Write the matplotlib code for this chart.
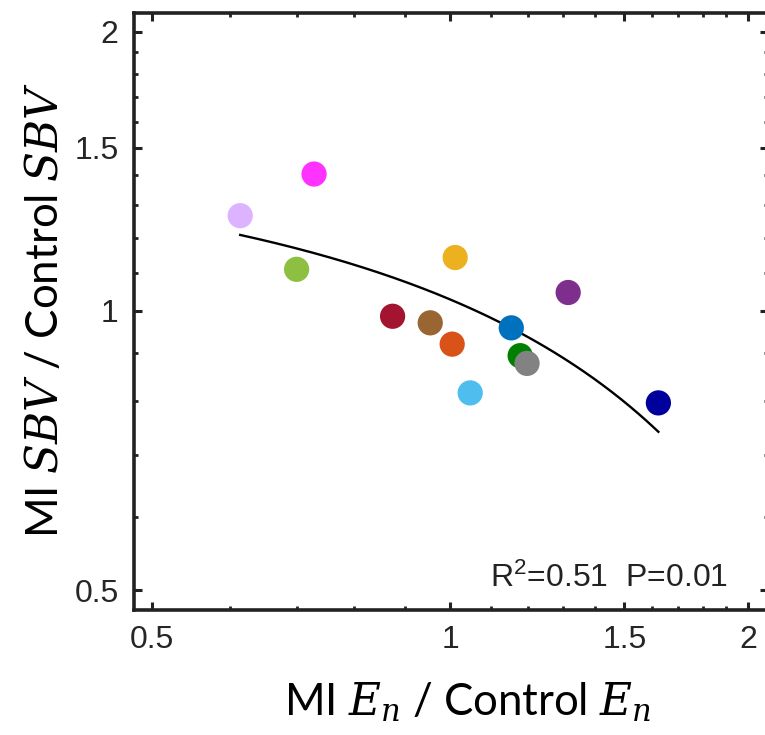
import matplotlib
matplotlib.use('Agg')
import matplotlib.pyplot as plt
import matplotlib.ticker as mticker
import numpy as np

# MI / control ratios, one point per subject
en_ratio = [0.614, 0.729, 0.700, 1.012, 1.316, 0.875, 0.955, 1.005, 1.153, 1.177, 1.196, 1.048, 1.623]
sbv_ratio = [1.267, 1.405, 1.109, 1.142, 1.047, 0.987, 0.971, 0.921, 0.959, 0.895, 0.878, 0.816, 0.796]
point_colors = ['#DDB3FF', '#FF33FF', '#8DC040', '#EDB120', '#7E2F8E', '#A2142F', '#996633',
                '#D95319', '#0072BD', '#008000', '#828282', '#4DBEEE', '#00009C']

major_ticks = [0.5, 1, 1.5, 2]
major_labels = ['0.5', '1', '1.5', '2']
minor_ticks = [0.6, 0.7, 0.8, 0.9, 1.1, 1.2, 1.3, 1.4, 1.6, 1.7, 1.8, 1.9]
stats_text = r'R$^2$=0.51  P=0.01'

# upright math in Arial-like sans, italic symbols in a serif italic
plt.rcParams['mathtext.fontset'] = 'custom'
plt.rcParams['mathtext.rm'] = 'Liberation Sans'
plt.rcParams['mathtext.it'] = 'DejaVu Serif:italic'

W, H = 765, 735
fig = plt.figure(figsize=(W / 100, H / 100), dpi=100)
ax = fig.add_axes([134 / W, (H - 610) / H, (768 - 134) / W, (610 - 13.3) / H])

ax.set_xscale('log')
ax.set_yscale('log')
ax.set_xlim(0.4797, 2.094)
ax.set_ylim(0.476, 2.094)

# linear least-squares fit, drawn over the range of the data
slope, intercept = np.polyfit(en_ratio, sbv_ratio, 1)
fit_x = np.linspace(min(en_ratio), max(en_ratio), 200)
ax.plot(fit_x, intercept + slope * fit_x, color='black', lw=1.7, zorder=2)

ax.scatter(en_ratio, sbv_ratio, s=330, c=point_colors, edgecolors='none', zorder=3)

for axis in (ax.xaxis, ax.yaxis):
    axis.set_major_locator(mticker.FixedLocator(major_ticks))
    axis.set_major_formatter(mticker.FixedFormatter(major_labels))
    axis.set_minor_locator(mticker.FixedLocator(minor_ticks))
    axis.set_minor_formatter(mticker.NullFormatter())

spine_color = '#222222'
for sp in ax.spines.values():
    sp.set_linewidth(2.6)
    sp.set_color(spine_color)

ax.tick_params(which='both', direction='in', top=True, right=True, color=spine_color)
ax.tick_params(which='major', length=5.5, width=2.2, pad=11, labelsize=23, labelcolor='#262626')
ax.tick_params(which='minor', length=3.2, width=2.0)
for lab in ax.get_xticklabels() + ax.get_yticklabels():
    lab.set_fontfamily('Liberation Sans')

fig.text(728 / W, (H - 586.7) / H, stats_text, ha='right', va='baseline',
         fontsize=23, family='Liberation Sans', color='#222222')

fig.text(467.5 / W, (H - 715) / H, r'MI $E_n$ / Control $E_n$', ha='center', va='baseline',
         fontsize=31.5, family='Lato')
fig.text(46 / W, (H - 310.5) / H, r'MI $SBV$ / Control $SBV$', ha='center', va='center',
         rotation=90, fontsize=31.5, family='Lato')

fig.savefig('out.png', dpi=100)
